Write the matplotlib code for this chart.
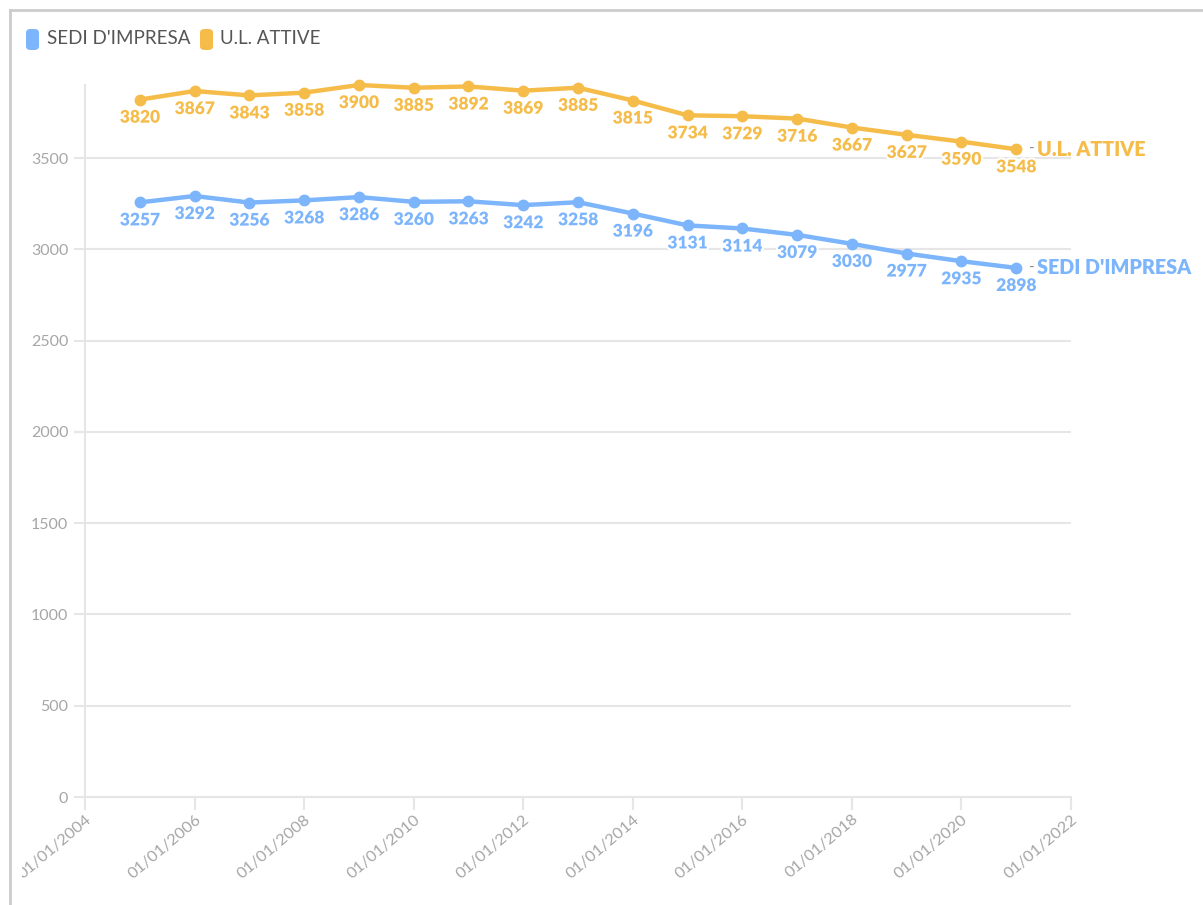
import matplotlib
matplotlib.use("Agg")
import matplotlib.pyplot as plt
import matplotlib.dates as mdates
import matplotlib.patheffects as pe
from matplotlib.patches import FancyBboxPatch
from matplotlib.lines import Line2D
from matplotlib.transforms import Bbox, TransformedBbox
import datetime as dt

years = list(range(2005, 2022))
sedi_impresa = [3257, 3292, 3256, 3268, 3286, 3260, 3263, 3242, 3258, 3196,
                3131, 3114, 3079, 3030, 2977, 2935, 2898]
ul_attive = [3820, 3867, 3843, 3858, 3900, 3885, 3892, 3869, 3885, 3815,
             3734, 3729, 3716, 3667, 3627, 3590, 3548]
series_names = ["SEDI D'IMPRESA", "U.L. ATTIVE"]
y_ticks = [0, 500, 1000, 1500, 2000, 2500, 3000, 3500]

BLUE = "#7cb5fb"
ORANGE = "#f5bc4a"
GRID = "#e6e6e6"
TICKTXT = "#a6a6a6"

plt.rcParams["font.family"] = ["Lato", "DejaVu Sans"]

W, H = 1203, 905
fig = plt.figure(figsize=(W / 100, H / 100), dpi=100)
ax = fig.add_axes([85 / W, 108 / H, (1071 - 85) / W, (797 - 85) / H])

dates = [dt.date(y, 1, 1) for y in years]

for vals, color in [(sedi_impresa, BLUE), (ul_attive, ORANGE)]:
    ax.plot(dates, vals, color=color, lw=3.2, marker="o", ms=7.5,
            solid_capstyle="round", zorder=3, clip_on=False)
    for d, v in zip(dates, vals):
        ax.annotate(f"{v}", (d, v), xytext=(0, -13), textcoords="offset points",
                    ha="center", va="center", fontsize=12.5, fontweight="heavy",
                    color=color, zorder=4,
                    path_effects=[pe.withStroke(linewidth=3, foreground="white")])

# end-of-line series names
for vals, color, name in [(sedi_impresa, BLUE, series_names[0]),
                          (ul_attive, ORANGE, series_names[1])]:
    ax.annotate("-", (dates[-1], vals[-1]), xytext=(9, 0), textcoords="offset points",
                ha="left", va="center", fontsize=11, color="#888888",
                annotation_clip=False)
    ax.annotate(name, (dates[-1], vals[-1]), xytext=(15, 0), textcoords="offset points",
                ha="left", va="center", fontsize=14.2, fontweight="heavy",
                color=color, annotation_clip=False)

ax.set_xlim(dt.date(2004, 1, 1), dt.date(2022, 1, 1))
ax.set_ylim(0, 3900)
ax.set_yticks(y_ticks)
ax.set_xticks([dt.date(y, 1, 1) for y in range(2004, 2023, 2)])
ax.xaxis.set_major_formatter(mdates.DateFormatter("%d/%m/%Y"))

ax.grid(axis="y", color=GRID, lw=1.5, zorder=0)
for s in ["top", "right"]:
    ax.spines[s].set_visible(False)
for s in ["left", "bottom"]:
    ax.spines[s].set_color(GRID)
    ax.spines[s].set_linewidth(1.5)

ax.tick_params(axis="y", colors=GRID, labelcolor=TICKTXT, labelsize=11.5,
               length=8, width=1.5, pad=4)
ax.tick_params(axis="x", colors=GRID, labelcolor=TICKTXT, labelsize=11.8,
               length=9, width=1.5, pad=2)
xlabels = ax.get_xticklabels()
for lbl in xlabels:
    lbl.set_rotation(40)
    lbl.set_ha("right")
    lbl.set_va("top")
    lbl.set_rotation_mode("anchor")
# the container cuts off the start of the first date label
xlabels[0].set_clip_box(TransformedBbox(Bbox([[22 / W, 0], [1, 1]]), fig.transFigure))
xlabels[0].set_clip_on(True)

# legend
for x0, tx, color, name in [(26, 47, BLUE, series_names[0]),
                            (200, 220, ORANGE, series_names[1])]:
    fig.patches.append(FancyBboxPatch((x0 / W, (H - 50) / H), 13 / W, 21 / H,
                                      boxstyle="round,pad=0,rounding_size=0.004",
                                      transform=fig.transFigure, fc=color, ec="none"))
    fig.text(tx / W, (H - 39) / H, name, fontsize=13.5, color="#555555",
             ha="left", va="center")

# container frame
fig.add_artist(Line2D([10 / W, 10 / W], [0, (H - 10) / H], color="#cccccc", lw=2,
                      transform=fig.transFigure))
fig.add_artist(Line2D([10 / W, 1], [(H - 10) / H, (H - 10) / H], color="#cccccc", lw=2,
                      transform=fig.transFigure))

fig.savefig("out.png", dpi=100, facecolor="white")
